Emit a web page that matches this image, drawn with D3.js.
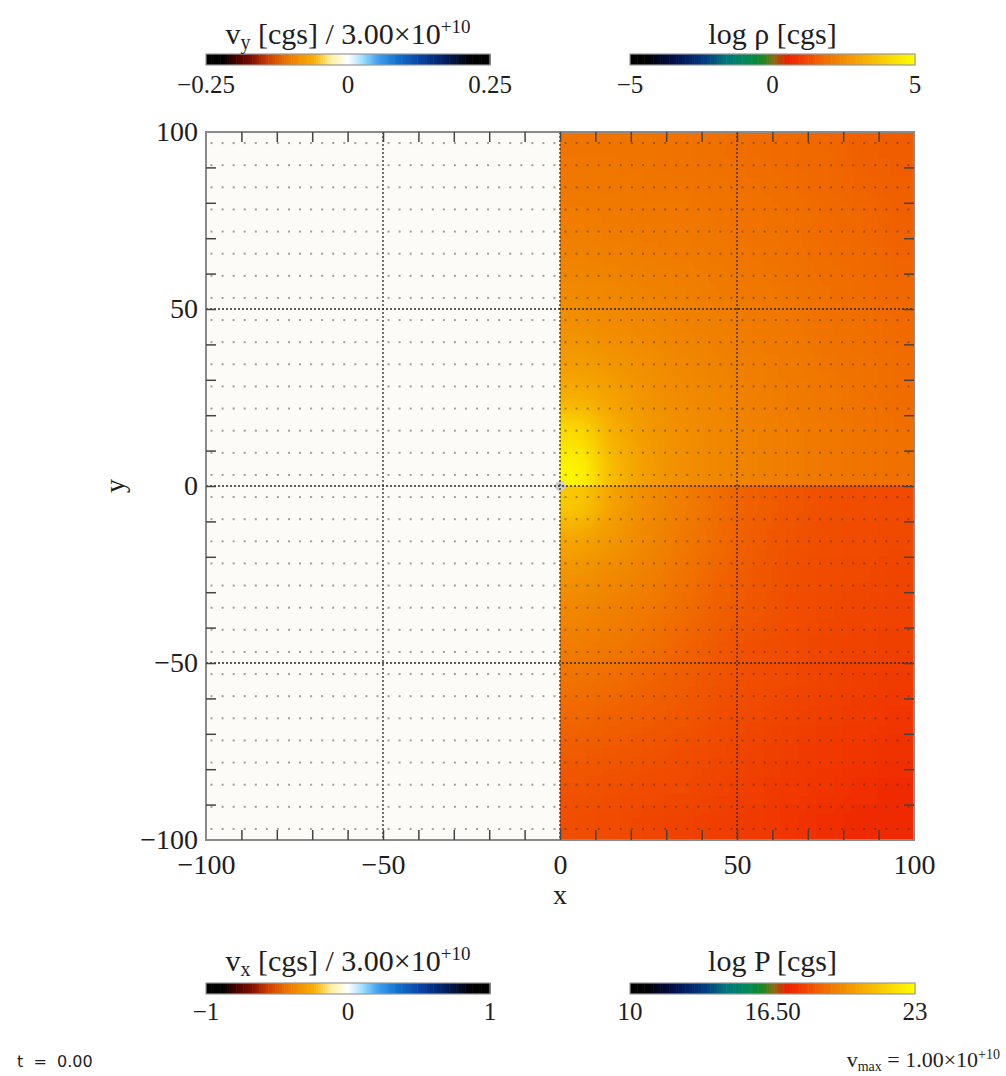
<!DOCTYPE html>
<html>
<head>
<meta charset="utf-8">
<script src="https://cdn.jsdelivr.net/npm/d3@7"></script>
<style>
  body { margin: 0; background: #fff; }
  svg text { font-family: "Liberation Serif", "Times New Roman", serif; fill: #1e1e1e; }
</style>
</head>
<body>
<svg id="chart" width="1006" height="1076"></svg>
<script>
// ---- data ----
const xTicks = [-100, -50, 0, 50, 100];
const yTicks = [-100, -50, 0, 50, 100];
const gridLines = [-50, 0, 50];
const minorTicks = [-90, -80, -70, -60, -50, -40, -30, -20, -10, 0, 10, 20, 30, 40, 50, 60, 70, 80, 90];

// log rho on the x>0 half, 10x10 cells per half
const cellX = [5, 15, 25, 35, 45, 55, 65, 75, 85, 95];
const upperY = [95, 85, 75, 65, 55, 45, 35, 25, 15, 5];
const upperRho = [
  [2.00, 2.00, 2.00, 1.95, 1.90, 1.85, 1.80, 1.75, 1.65, 1.55],
  [2.05, 2.05, 2.00, 2.00, 1.95, 1.90, 1.85, 1.75, 1.70, 1.60],
  [2.15, 2.10, 2.05, 2.05, 2.00, 1.95, 1.90, 1.80, 1.75, 1.65],
  [2.25, 2.20, 2.15, 2.10, 2.05, 2.00, 1.95, 1.85, 1.80, 1.70],
  [2.40, 2.35, 2.25, 2.20, 2.10, 2.05, 2.00, 1.90, 1.85, 1.75],
  [2.55, 2.45, 2.35, 2.25, 2.20, 2.10, 2.05, 1.95, 1.90, 1.80],
  [2.80, 2.65, 2.50, 2.35, 2.25, 2.15, 2.10, 2.00, 1.95, 1.85],
  [3.20, 2.90, 2.60, 2.45, 2.30, 2.20, 2.10, 2.05, 1.95, 1.85],
  [4.20, 3.20, 2.75, 2.50, 2.35, 2.25, 2.15, 2.05, 2.00, 1.90],
  [4.80, 3.40, 2.80, 2.50, 2.35, 2.25, 2.15, 2.05, 2.00, 1.90]
];
const lowerY = [-5, -15, -25, -35, -45, -55, -65, -75, -85, -95];
const lowerRho = [
  [3.80, 2.90, 2.45, 2.15, 1.85, 1.60, 1.45, 1.35, 1.30, 1.25],
  [3.00, 2.65, 2.35, 2.05, 1.80, 1.55, 1.40, 1.30, 1.25, 1.20],
  [2.60, 2.40, 2.20, 1.95, 1.70, 1.50, 1.35, 1.25, 1.20, 1.15],
  [2.35, 2.20, 2.05, 1.85, 1.60, 1.45, 1.30, 1.20, 1.15, 1.10],
  [2.15, 2.05, 1.90, 1.70, 1.50, 1.35, 1.25, 1.15, 1.10, 1.05],
  [1.95, 1.85, 1.70, 1.55, 1.40, 1.30, 1.20, 1.10, 1.00, 0.95],
  [1.75, 1.65, 1.55, 1.45, 1.30, 1.20, 1.10, 1.00, 0.95, 0.85],
  [1.55, 1.50, 1.40, 1.30, 1.20, 1.10, 1.00, 0.90, 0.85, 0.80],
  [1.40, 1.35, 1.25, 1.20, 1.10, 1.00, 0.90, 0.85, 0.75, 0.70],
  [1.30, 1.25, 1.15, 1.10, 1.00, 0.95, 0.85, 0.75, 0.70, 0.65]
];

// velocity arrows are all ~zero length: 64 x 32 grid of dots
const vecCols = 64;
const vecRows = 32;

// colour tables
const rhoStops = [[0, "#000000"], [0.06, "#000000"], [0.16, "#001050"], [0.26, "#003a80"],
  [0.34, "#007878"], [0.40, "#008860"], [0.46, "#108a28"], [0.50, "#807010"],
  [0.55, "#f02000"], [0.62, "#f04800"], [0.72, "#f08000"], [0.86, "#f8c000"], [1.0, "#ffff00"]];
const velStops = [[0, "#000000"], [0.06, "#000000"], [0.10, "#400000"], [0.16, "#801000"],
  [0.22, "#d04000"], [0.30, "#f08000"], [0.38, "#f8b000"], [0.44, "#fff0a0"], [0.50, "#ffffff"],
  [0.55, "#a0e0ff"], [0.605, "#40a0f0"], [0.675, "#1070d0"], [0.76, "#0840a0"],
  [0.84, "#002060"], [0.93, "#000000"], [1.0, "#000000"]];

// colorbars
const vyRange = [-0.25, 0.25], vyLabels = ["\u22120.25", "0", "0.25"];
const rhoRange = [-5, 5], rhoLabels = ["\u22125", "0", "5"];
const vxRange = [-1, 1], vxLabels = ["\u22121", "0", "1"];
const pRange = [10, 23], pLabels = ["10", "16.50", "23"];

// ---- drawing ----
const svg = d3.select("#chart");
const x = d3.scaleLinear().domain([-100, 100]).range([206, 914]);
const y = d3.scaleLinear().domain([-100, 100]).range([840, 132]);

function cmap(stops, lo, hi) {
  return d3.scaleLinear()
    .domain(stops.map(s => lo + (hi - lo) * s[0]))
    .range(stops.map(s => s[1]))
    .interpolate(d3.interpolateRgb)
    .clamp(true);
}
const rhoColor = cmap(rhoStops, -5, 5);

const defs = svg.append("defs");
defs.append("filter").attr("id", "soft")
  .attr("filterUnits", "userSpaceOnUse")
  .attr("x", 400).attr("y", 0).attr("width", 700).attr("height", 1000)
  .append("feGaussianBlur").attr("stdDeviation", 13);
defs.append("clipPath").attr("id", "clipU").append("rect")
  .attr("x", x(0)).attr("y", y(100)).attr("width", x(100) - x(0)).attr("height", y(0) - y(100));
defs.append("clipPath").attr("id", "clipL").append("rect")
  .attr("x", x(0)).attr("y", y(0)).attr("width", x(100) - x(0)).attr("height", y(-100) - y(0));

// background of the plot (x<0 side is almost white)
svg.append("rect")
  .attr("x", x(-100)).attr("y", y(100))
  .attr("width", x(100) - x(-100)).attr("height", y(-100) - y(100))
  .attr("fill", "#fcfbf8");

function drawHalf(rows, vals, clipId) {
  const cells = [];
  const dir = Math.sign(rows[0] - rows[1]);
  rows.forEach((cy, j) => cellX.forEach((cx, i) => {
    // edge cells are stretched out so the blur does not fade at the border
    const x0 = cx - 5 - (i === 0 ? 40 : 0), x1 = cx + 5 + (i === cellX.length - 1 ? 40 : 0);
    const ya = cy + 5 * dir + (j === 0 ? 40 * dir : 0);
    const yb = cy - 5 * dir - (j === rows.length - 1 ? 40 * dir : 0);
    cells.push({x0, x1, y0: Math.min(ya, yb), y1: Math.max(ya, yb), v: vals[j][i]});
  }));
  svg.append("g").attr("clip-path", `url(#${clipId})`)
    .append("g").attr("filter", "url(#soft)")
    .selectAll("rect").data(cells).join("rect")
    .attr("x", d => x(d.x0))
    .attr("y", d => y(d.y1))
    .attr("width", d => x(d.x1) - x(d.x0) + 0.5)
    .attr("height", d => y(d.y0) - y(d.y1) + 0.5)
    .attr("fill", d => rhoColor(d.v));
}
drawHalf(upperY, upperRho, "clipU");
drawHalf(lowerY, lowerRho, "clipL");

// small sink marker at the origin
svg.append("circle").attr("cx", x(0)).attr("cy", y(0)).attr("r", 5).attr("fill", "#cfcfcf");

// dashed grid lines
const grid = svg.append("g").attr("stroke", "#2a2a2a").attr("stroke-width", 1.3)
  .attr("stroke-dasharray", "2,2");
grid.selectAll(".gx").data(gridLines).join("line")
  .attr("x1", d => x(d)).attr("x2", d => x(d)).attr("y1", y(100)).attr("y2", y(-100));
grid.selectAll(".gy").data(gridLines).join("line")
  .attr("y1", d => y(d)).attr("y2", d => y(d)).attr("x1", x(-100)).attr("x2", x(100));

// velocity dots
const dots = [];
for (let j = 0; j < vecRows; j++) for (let i = 0; i < vecCols; i++) {
  dots.push({vx: -100 + (i + 0.5) * 200 / vecCols, vy: -100 + (j + 0.5) * 200 / vecRows});
}
svg.append("g").selectAll("rect").data(dots).join("rect")
  .attr("x", d => x(d.vx) - 1).attr("y", d => y(d.vy) - 1)
  .attr("width", 2).attr("height", 2)
  .attr("fill", "#333").attr("opacity", 0.45);

// frame
svg.append("rect")
  .attr("x", x(-100)).attr("y", y(100))
  .attr("width", x(100) - x(-100)).attr("height", y(-100) - y(100))
  .attr("fill", "none").attr("stroke", "#8a8a8a").attr("stroke-width", 2);

// minor ticks on all four sides, pointing inward
function minor(axis, tr) {
  const g = svg.append("g").attr("transform", tr)
    .call(axis.tickValues(minorTicks).tickSizeInner(-10).tickSizeOuter(0).tickFormat(""));
  g.select(".domain").remove();
  g.selectAll("line").attr("stroke", "#444").attr("stroke-width", 1.5);
}
minor(d3.axisBottom(x), `translate(0,${y(-100)})`);
minor(d3.axisTop(x), `translate(0,${y(100)})`);
minor(d3.axisLeft(y), `translate(${x(-100)},0)`);
minor(d3.axisRight(y), `translate(${x(100)},0)`);

// tick labels
const fmt = d3.format("d");
const xAx = svg.append("g").attr("transform", `translate(0,${y(-100)})`)
  .call(d3.axisBottom(x).tickValues(xTicks).tickSize(0).tickPadding(14).tickFormat(fmt));
const yAx = svg.append("g").attr("transform", `translate(${x(-100)},0)`)
  .call(d3.axisLeft(y).tickValues(yTicks).tickSize(0).tickPadding(8).tickFormat(fmt));
[xAx, yAx].forEach(g => {
  g.select(".domain").remove();
  g.selectAll("text").attr("font-size", 28).attr("fill", "#1e1e1e")
    .style("font-family", '"Liberation Serif", serif');
});

svg.append("text").attr("x", x(0)).attr("y", 904).attr("text-anchor", "middle")
  .attr("font-size", 28).text("x");
svg.append("text").attr("transform", `translate(124,${y(0)}) rotate(-90)`)
  .attr("text-anchor", "middle").attr("font-size", 28).text("y");

// colorbars
function colorbar(x0, x1, top, stops, range, labels, titleParts, titleY, labelY) {
  const s = d3.scaleLinear().domain(range).range([x0, x1]);
  const c = cmap(stops, range[0], range[1]);
  const n = 160;
  const vals = d3.range(n).map(k => range[0] + (range[1] - range[0]) * (k + 0.5) / n);
  const w = (x1 - x0) / n;
  svg.append("g").selectAll("rect").data(vals).join("rect")
    .attr("x", d => s(d) - w / 2).attr("y", top)
    .attr("width", w + 0.6).attr("height", 11)
    .attr("fill", d => c(d));
  svg.append("rect").attr("x", x0).attr("y", top).attr("width", x1 - x0).attr("height", 11)
    .attr("fill", "none").attr("stroke", "#999").attr("stroke-width", 1.2);
  const lv = [range[0], (range[0] + range[1]) / 2, range[1]];
  svg.append("g").selectAll("text").data(lv).join("text")
    .attr("x", d => s(d)).attr("y", labelY).attr("text-anchor", "middle")
    .attr("font-size", 25).text((d, i) => labels[i]);
  const t = svg.append("text").attr("x", (x0 + x1) / 2).attr("y", titleY)
    .attr("text-anchor", "middle").attr("font-size", 30);
  titleParts.forEach(p => {
    const ts = t.append("tspan").text(p[0]);
    if (p[1] === "sub") ts.attr("font-size", 20).attr("baseline-shift", "-25%");
    if (p[1] === "sup") ts.attr("font-size", 19).attr("baseline-shift", "60%");
    if (p[1] === "norm") ts.attr("baseline-shift", "0%");
  });
}
colorbar(x(-100), 490, 54, velStops, vyRange, vyLabels,
  [["v"], ["y", "sub"], [" [cgs] / 3.00\u00d710", "norm"], ["+10", "sup"]], 44, 93);
colorbar(630, 915, 54, rhoStops, rhoRange, rhoLabels,
  [["log \u03c1 [cgs]"]], 44, 93);
colorbar(x(-100), 490, 983, velStops, vxRange, vxLabels,
  [["v"], ["x", "sub"], [" [cgs] / 3.00\u00d710", "norm"], ["+10", "sup"]], 971, 1020);
colorbar(630, 915, 983, rhoStops, pRange, pLabels,
  [["log P [cgs]"]], 971, 1020);

// corner annotations
svg.append("text").attr("x", 17).attr("y", 1067).attr("font-size", 16)
  .attr("fill", "#444").style("font-family", '"DejaVu Sans", sans-serif')
  .attr("xml:space", "preserve").text("t  =  0.00");
const vm = svg.append("text").attr("x", 1000).attr("y", 1067).attr("text-anchor", "end")
  .attr("font-size", 22).attr("fill", "#333");
vm.append("tspan").text("v");
vm.append("tspan").attr("font-size", 14).attr("baseline-shift", "-30%").text("max");
vm.append("tspan").attr("baseline-shift", "0%").text(" = 1.00\u00d710");
vm.append("tspan").attr("font-size", 14).attr("baseline-shift", "60%").text("+10");
</script>
</body>
</html>
